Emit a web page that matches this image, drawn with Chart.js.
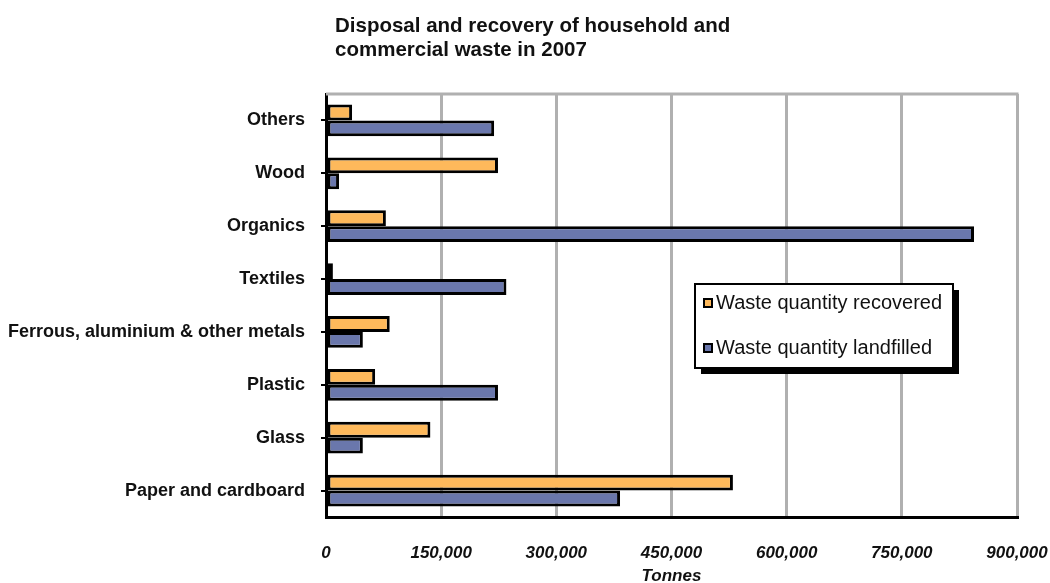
<!DOCTYPE html>
<html>
<head>
<meta charset="utf-8">
<script src="https://cdn.jsdelivr.net/npm/chart.js@4/dist/chart.umd.min.js"></script>
<style>
  html, body { margin: 0; padding: 0; background: #ffffff; }
  #wrap { width: 1050px; height: 583px; position: relative; }
</style>
</head>
<body>
<div id="wrap"><canvas id="c" width="1050" height="583"></canvas></div>
<script>
const categories = ["Others", "Wood", "Organics", "Textiles", "Ferrous, aluminium & other metals", "Plastic", "Glass", "Paper and cardboard"];
const recovered = [34000, 224000, 78000, 9000, 83000, 64000, 136000, 530000];
const landfilled = [219000, 17000, 844000, 235000, 48000, 224000, 48000, 383000];
const seriesNames = ["Waste quantity recovered", "Waste quantity landfilled"];
const seriesColors = ["#FEB95B", "#6A77AC"];
const titleLines = ["Disposal and recovery of household and", "commercial waste in 2007"];
const xAxisTitle = "Tonnes";
const xMax = 900000;
const xStep = 150000;

const FONT = "'Liberation Sans', Arial, Helvetica, sans-serif";

const titlePlugin = {
  id: 'customTitle',
  afterDraw(chart) {
    const ctx = chart.ctx;
    ctx.save();
    ctx.fillStyle = '#111';
    ctx.font = 'bold 20.5px ' + FONT;
    ctx.textAlign = 'left';
    ctx.textBaseline = 'alphabetic';
    const x = chart.chartArea.left + 9;
    titleLines.forEach((t, i) => ctx.fillText(t, x, 32 + i * 24));
    ctx.restore();
  }
};

const framePlugin = {
  id: 'frame',
  beforeDatasetsDraw(chart) {
    const a = chart.chartArea, ctx = chart.ctx;
    ctx.save();
    ctx.strokeStyle = '#b0b0b0';
    ctx.lineWidth = 3;
    ctx.beginPath();
    ctx.moveTo(a.left, a.top);
    ctx.lineTo(a.right + 1.5, a.top);
    ctx.stroke();
    ctx.restore();
  }
};

const legendPlugin = {
  id: 'boxLegend',
  afterDraw(chart) {
    const a = chart.chartArea, ctx = chart.ctx;
    const x0 = a.left + 369, y0 = a.top + 190, w = 258, h = 84;
    ctx.save();
    ctx.fillStyle = '#000';
    ctx.fillRect(x0 + 6, y0 + 6, w, h);
    ctx.fillStyle = '#fff';
    ctx.fillRect(x0, y0, w, h);
    ctx.strokeStyle = '#000';
    ctx.lineWidth = 2;
    ctx.strokeRect(x0, y0, w, h);
    ctx.font = '20px ' + FONT;
    ctx.textBaseline = 'middle';
    ctx.textAlign = 'left';
    chart.data.datasets.forEach((ds, i) => {
      const cy = y0 + 19 + i * 45;
      ctx.fillStyle = '#000';
      ctx.fillRect(x0 + 8, cy - 5, 10, 10);
      ctx.fillStyle = ds.backgroundColor;
      ctx.fillRect(x0 + 10, cy - 3, 6, 6);
      ctx.fillStyle = '#111';
      ctx.fillText(ds.label, x0 + 21, cy);
    });
    ctx.restore();
  }
};

new Chart(document.getElementById('c'), {
  type: 'bar',
  data: {
    labels: categories,
    datasets: [
      { label: seriesNames[0], data: recovered, backgroundColor: seriesColors[0], borderColor: '#000', borderWidth: 3, borderSkipped: false },
      { label: seriesNames[1], data: landfilled, backgroundColor: seriesColors[1], borderColor: '#000', borderWidth: 3, borderSkipped: false }
    ]
  },
  options: {
    indexAxis: 'y',
    responsive: false,
    animation: false,
    layout: { padding: { top: 94, right: 33, left: 0, bottom: 0 } },
    datasets: { bar: { categoryPercentage: 0.6, barPercentage: 1.0 } },
    plugins: {
      legend: { display: false },
      title: { display: false },
      tooltip: { enabled: false }
    },
    scales: {
      x: {
        min: 0, max: xMax,
        ticks: {
          stepSize: xStep,
          padding: 26,
          maxRotation: 0,
          color: '#111',
          font: { family: FONT, size: 17, weight: 'bold', style: 'italic' },
          callback: v => v === 0 ? '0' : v.toLocaleString('en-US')
        },
        grid: { color: '#b0b0b0', lineWidth: 3, drawTicks: false },
        border: { color: '#000', width: 3 },
        title: {
          display: true, text: xAxisTitle, color: '#111',
          font: { family: FONT, size: 17, weight: 'bold', style: 'italic' },
          padding: { top: 4, bottom: -4 }
        },
        afterFit(s) { s.height = 66; s.paddingLeft = 0; s.paddingRight = 0; }
      },
      y: {
        ticks: {
          padding: 16,
          color: '#111',
          font: { family: FONT, size: 18, weight: 'bold' }
        },
        grid: { drawOnChartArea: false, offset: false, color: '#000', lineWidth: 2, tickLength: 5 },
        border: { color: '#000', width: 3 },
        afterFit(s) { s.width = 326; s.paddingTop = 0; s.paddingBottom = 0; }
      }
    }
  },
  plugins: [framePlugin, titlePlugin, legendPlugin]
});
</script>
</body>
</html>
